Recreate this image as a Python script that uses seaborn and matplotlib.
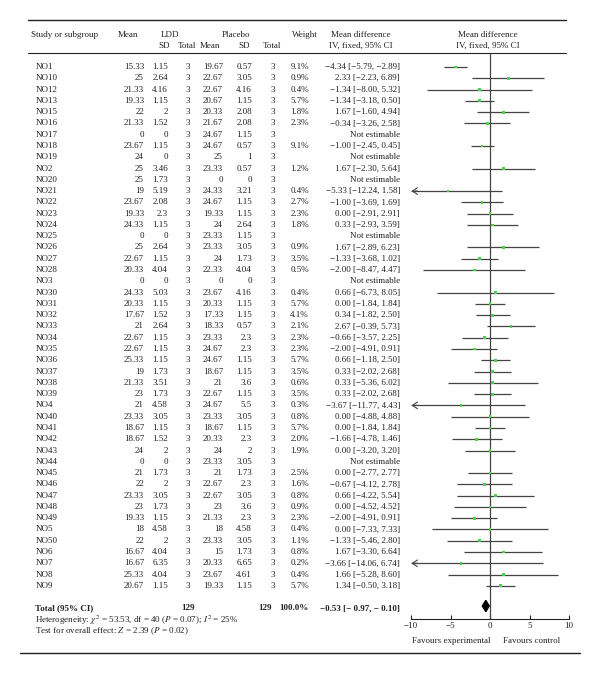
import numpy as np
import pandas as pd
import matplotlib
matplotlib.use("Agg")
import matplotlib.pyplot as plt
import seaborn as sns

nan = np.nan

# Study rows
studies = ["NO1", "NO10", "NO12", "NO13", "NO15", "NO16", "NO17", "NO18", "NO19", "NO2",
           "NO20", "NO21", "NO22", "NO23", "NO24", "NO25", "NO26", "NO27", "NO28", "NO3",
           "NO30", "NO31", "NO32", "NO33", "NO34", "NO35", "NO36", "NO37", "NO38", "NO39",
           "NO4", "NO40", "NO41", "NO42", "NO43", "NO44", "NO45", "NO46", "NO47", "NO48",
           "NO49", "NO5", "NO50", "NO6", "NO7", "NO8", "NO9"]
ldd_mean = [15.33, 25, 21.33, 19.33, 22, 21.33, 0, 23.67, 24, 25,
            25, 19, 23.67, 19.33, 24.33, 0, 25, 22.67, 20.33, 0,
            24.33, 20.33, 17.67, 21, 22.67, 22.67, 25.33, 19, 21.33, 23,
            21, 23.33, 18.67, 18.67, 24, 0, 21, 22, 23.33, 23,
            19.33, 18, 22, 16.67, 16.67, 25.33, 20.67]
ldd_sd = [1.15, 2.64, 4.16, 1.15, 2, 1.52, 0, 1.15, 0, 3.46,
          1.73, 5.19, 2.08, 2.3, 1.15, 0, 2.64, 1.15, 4.04, 0,
          5.03, 1.15, 1.52, 2.64, 1.15, 1.15, 1.15, 1.73, 3.51, 1.73,
          4.58, 3.05, 1.15, 1.52, 2, 0, 1.73, 2, 3.05, 1.73,
          1.15, 4.58, 2, 4.04, 6.35, 4.04, 1.15]
ldd_n = [3] * 47
pl_mean = [19.67, 22.67, 22.67, 20.67, 20.33, 21.67, 24.67, 24.67, 25, 23.33,
           0, 24.33, 24.67, 19.33, 24, 23.33, 23.33, 24, 22.33, 0,
           23.67, 20.33, 17.33, 18.33, 23.33, 24.67, 24.67, 18.67, 21, 22.67,
           24.67, 23.33, 18.67, 20.33, 24, 23.33, 21, 22.67, 22.67, 23,
           21.33, 18, 23.33, 15, 20.33, 23.67, 19.33]
pl_sd = [0.57, 3.05, 4.16, 1.15, 2.08, 2.08, 1.15, 0.57, 1, 0.57,
         0, 3.21, 1.15, 1.15, 2.64, 1.15, 3.05, 1.73, 4.04, 0,
         4.16, 1.15, 1.15, 0.57, 2.3, 2.3, 1.15, 1.15, 3.6, 1.15,
         5.5, 3.05, 1.15, 2.3, 2, 3.05, 1.73, 2.3, 3.05, 3.6,
         2.3, 4.58, 3.05, 1.73, 6.65, 4.61, 1.15]
pl_n = [3] * 47
weight = [9.1, 0.9, 0.4, 5.7, 1.8, 2.3, nan, 9.1, nan, 1.2,
          nan, 0.4, 2.7, 2.3, 1.8, nan, 0.9, 3.5, 0.5, nan,
          0.4, 5.7, 4.1, 2.1, 2.3, 2.3, 5.7, 3.5, 0.6, 3.5,
          0.3, 0.8, 5.7, 2.0, 1.9, nan, 2.5, 1.6, 0.8, 0.9,
          2.3, 0.4, 1.1, 0.8, 0.2, 0.4, 5.7]
md = [-4.34, 2.33, -1.34, -1.34, 1.67, -0.34, nan, -1.00, nan, 1.67,
      nan, -5.33, -1.00, 0.00, 0.33, nan, 1.67, -1.33, -2.00, nan,
      0.66, 0.00, 0.34, 2.67, -0.66, -2.00, 0.66, 0.33, 0.33, 0.33,
      -3.67, 0.00, 0.00, -1.66, 0.00, nan, 0.00, -0.67, 0.66, 0.00,
      -2.00, 0.00, -1.33, 1.67, -3.66, 1.66, 1.34]
ci_lo = [-5.79, -2.23, -8.00, -3.18, -1.60, -3.26, nan, -2.45, nan, -2.30,
         nan, -12.24, -3.69, -2.91, -2.93, nan, -2.89, -3.68, -8.47, nan,
         -6.73, -1.84, -1.82, -0.39, -3.57, -4.91, -1.18, -2.02, -5.36, -2.02,
         -11.77, -4.88, -1.84, -4.78, -3.20, nan, -2.77, -4.12, -4.22, -4.52,
         -4.91, -7.33, -5.46, -3.30, -14.06, -5.28, -0.50]
ci_hi = [-2.89, 6.89, 5.32, 0.50, 4.94, 2.58, nan, 0.45, nan, 5.64,
         nan, 1.58, 1.69, 2.91, 3.59, nan, 6.23, 1.02, 4.47, nan,
         8.05, 1.84, 2.50, 5.73, 2.25, 0.91, 2.50, 2.68, 6.02, 2.68,
         4.43, 4.88, 1.84, 1.46, 3.20, nan, 2.77, 2.78, 5.54, 4.52,
         0.91, 7.33, 2.80, 6.64, 6.74, 8.60, 3.18]

# Totals
total_n_ldd = 129
total_n_pl = 129
total_weight = 100.0
total_md, total_lo, total_hi = -0.53, -0.97, -0.10
heterogeneity = r"Heterogeneity: $\chi^2$ = 53.53, df = 40 ($P$ = 0.07); $I^2$ = 25%"
overall = r"Test for overall effect: $Z$ = 2.39 ($P$ = 0.02)"
x_ticks = [-10, -5, 0, 5, 10]

df = pd.DataFrame({"study": studies, "md": md, "lo": ci_lo, "hi": ci_hi})
df["row"] = np.arange(len(df))

sns.set_theme(style="white")
plt.rcParams["font.family"] = ["Liberation Serif", "DejaVu Serif"]
plt.rcParams["mathtext.fontset"] = "stix"
FS = 6.5
INK = "#222222"
LINE = "#444444"
GREEN = "#3fdc3f"

fig = plt.figure(figsize=(6, 6.74), dpi=100)
bg = fig.add_axes([0, 0, 1, 1])
bg.set_xlim(0, 600)
bg.set_ylim(674, 0)
bg.axis("off")

row0, row_h = 67, 11.28   # pixel y of first row, row spacing
ypix = lambda i: row0 + i * row_h

def t(x, y, s, ha="left", weight="normal"):
    bg.text(x, y, s, ha=ha, va="center", fontsize=FS, color=INK, fontweight=weight)

def fmt(v):
    return f"{v:g}"

def neg(s):
    return s.replace("-", "\u2212")

# rules
bg.plot([28, 566], [20, 20], color=INK, lw=1.0)
bg.plot([28, 566], [53, 53], color=INK, lw=0.8)
bg.plot([20, 580], [653, 653], color=INK, lw=1.0)

# header
h1, h2 = 35, 46
t(31, h1, "Study or subgroup")
t(128, h1, "Mean", ha="center")
t(161, h1, "LDD")
t(170, h2, "SD", ha="right")
t(187, h2, "Total", ha="center")
t(210, h2, "Mean", ha="center")
t(236, h1, "Placebo", ha="center")
t(244, h2, "SD", ha="center")
t(272, h2, "Total", ha="center")
t(305, h1, "Weight", ha="center")
t(361, h1, "Mean difference", ha="center")
t(361, h2, "IV, fixed, 95% CI", ha="center")
t(488, h1, "Mean difference", ha="center")
t(488, h2, "IV, fixed, 95% CI", ha="center")

# table body
for i in range(len(studies)):
    y = ypix(i)
    t(36, y, studies[i])
    t(144, y, fmt(ldd_mean[i]), ha="right")
    t(168, y, fmt(ldd_sd[i]), ha="right")
    t(188, y, str(ldd_n[i]), ha="center")
    t(223, y, fmt(pl_mean[i]), ha="right")
    t(252, y, fmt(pl_sd[i]), ha="right")
    t(273, y, str(pl_n[i]), ha="center")
    if np.isnan(md[i]):
        t(400, y, "Not estimable", ha="right")
    else:
        t(309, y, f"{weight[i]:.1f}%", ha="right")
        t(400, y, neg(f"{md[i]:.2f} [{ci_lo[i]:.2f}, {ci_hi[i]:.2f}]"), ha="right")

# total row
ty = 608
t(35, ty, "Total (95% CI)", weight="bold")
t(188, ty, str(total_n_ldd), ha="center", weight="bold")
t(272, ty, str(total_n_pl), ha="right", weight="bold")
t(309, ty, f"{total_weight:.1f}%", ha="right", weight="bold")
t(400, ty, neg(f"{total_md:.2f} [- {abs(total_lo):.2f}, - {abs(total_hi):.2f}]"),
  ha="right", weight="bold")
t(35, 620, heterogeneity)
t(35, 631, overall)

# forest panel
top_px, bot_px, left_px, right_px = 53, 619, 411, 569
fa = fig.add_axes([left_px / 600, 1 - bot_px / 674,
                   (right_px - left_px) / 600, (bot_px - top_px) / 674])
fa.set_xlim(-10, 10)
fa.set_ylim((bot_px - row0) / row_h, (top_px - row0) / row_h)
fa.patch.set_alpha(0)
fa.axvline(0, color=LINE, lw=0.9, zorder=1)

est = df.dropna(subset=["md"])
fa.hlines(est["row"], est["lo"].clip(lower=-10), est["hi"].clip(upper=10),
          color=LINE, lw=0.9, zorder=2)
for _, r in est[est["lo"] < -10].iterrows():
    fa.annotate("", xy=(-10.3, r["row"]), xytext=(-8.8, r["row"]),
                arrowprops=dict(arrowstyle="->,head_length=0.3,head_width=0.2",
                                lw=0.8, color=LINE), annotation_clip=False)
sns.scatterplot(data=est, x="md", y="row", marker="s", s=4, color=GREEN,
                edgecolor="none", ax=fa, zorder=3, legend=False)

tot_row = (606 - row0) / row_h
fa.fill([total_lo, total_md, total_hi, total_md],
        [tot_row, tot_row - 0.5, tot_row, tot_row + 0.5], color="black", zorder=4)

for s in ["top", "left", "right"]:
    fa.spines[s].set_visible(False)
fa.spines["bottom"].set_color(INK)
fa.spines["bottom"].set_linewidth(0.8)
fa.set_xticks(x_ticks)
fa.set_yticks([])
fa.set_xlabel("")
fa.set_ylabel("")
fa.tick_params(axis="x", direction="in", length=3, width=0.8, color=INK,
               labelsize=FS, labelcolor=INK, pad=2, bottom=True)

t(412, 641, "Favours experimental")
t(503, 641, "Favours control")

fig.savefig("out.png", dpi=100)
